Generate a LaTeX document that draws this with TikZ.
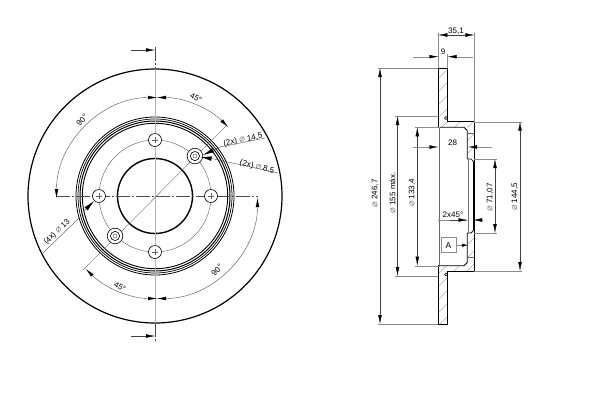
\documentclass[tikz,border=0pt]{standalone}
\usepackage{fontspec}
\setmainfont{Liberation Sans}
\newfontfamily\symfnt{DejaVu Sans}
\usetikzlibrary{arrows.meta}
\newcommand{\dia}{{\symfnt\textcolor{black!50}{\fontsize{9.5}{9}\selectfont ⌀}}}
\tikzset{
  dimline/.style={line width=0.35pt,black!75},
  extline/.style={line width=0.4pt,black!45},
  tips/.style={{Latex[length=9pt,width=3.6pt,black]}-{Latex[length=9pt,width=3.6pt,black]}},
  tipend/.style={-{Latex[length=9pt,width=3.6pt,black]}},
  wedge/.style={-{Latex[length=11pt,width=4.5pt,black]}},
  lab/.style={font=\fontsize{8}{9}\selectfont,inner sep=0pt},
  ctr/.style={line width=0.35pt,black!70,dash pattern=on 14pt off 2pt on 2pt off 2pt},
  hatchl/.style={line width=0.4pt,black!30},
  edge/.style={line width=0.8pt,black},
}
\begin{document}
\begin{tikzpicture}[x=1pt,y=1pt]
\useasboundingbox (0,0) rectangle (600,-400);
\fill[white] (0,0) rectangle (600,-400);
% ---- front view
\coordinate (C) at (155,-196);
\coordinate (D) at (157,-198);
\draw[line width=1.2pt] (C) circle (127);
\foreach \r/\w in {79/0.8,77/0.7,75/1.0,72.7/0.9}{\draw[line width=\w pt] (C) circle (\r);}
\draw[line width=1.4pt] (C) circle (37.5);
\draw[line width=0.35pt,black!70] (C) circle (56);
% centre lines
\draw[ctr] (155,-47) -- (155,-69);
\draw[ctr] (155,-323) -- (155,-341);
\draw[line width=0.9pt,black!30] (155,-69) -- (155,-323);
\draw[ctr] (56,-196) -- (258,-196);
\draw[line width=0.4pt,black!55] (227,-125) -- (83,-270);
% holes
\foreach \a in {0,90,180,270}{
  \draw[line width=0.6pt,fill=white] (C) ++(\a:56) circle (6.5);
  \draw[line width=0.25pt,black!60] (C) ++(\a:56) ++(-3,0) -- ++(6,0);
  \draw[line width=0.25pt,black!60] (C) ++(\a:56) ++(0,-3) -- ++(0,6);
}
\foreach \a in {45,225}{
  \draw[line width=0.6pt,fill=white] (C) ++(\a:56.5) circle (7.8);
  \draw[line width=0.6pt] (C) ++(\a:56.5) circle (4.6);
  \draw[line width=0.4pt,black!70] (C) ++(\a:56.5) circle (2);
}
% section arrows
\draw[dimline,tipend] (131,-50) -- (155,-50);
\draw[dimline,tipend] (131,-336) -- (155,-336);
% angular dimensions
\draw[dimline,tips] (D) ++(180:100.5) arc[start angle=180,end angle=90,radius=100.5];
\draw[dimline,tips] (D) ++(90:100.5) arc[start angle=90,end angle=45,radius=100.5];
\draw[dimline,tips] (D) ++(225:100.5) arc[start angle=225,end angle=270,radius=100.5];
\draw[dimline,tips] (D) ++(270:100.5) arc[start angle=270,end angle=360,radius=100.5];
\node[lab,rotate=45,fill=white,inner sep=0.3pt] (t90a) at (82,-120) {90°};
\node[lab,rotate=-28,fill=white,inner sep=0.3pt] (t45a) at (196,-98) {45°};
\node[lab,rotate=-28,fill=white,inner sep=0.3pt] (t45b) at (120,-287) {45°};
\node[lab,rotate=45,fill=white,inner sep=0.3pt] (t90b) at (217,-270) {90°};
% leaders
\draw[dimline] (265,-138) -- (220,-147);
\draw[dimline,wedge] (220,-147) -- (203,-155);
\draw[dimline] (278,-173) -- (214,-159);
\draw[dimline,wedge] (214,-159) -- (200.5,-157);
\draw[dimline] (43,-253) -- (79,-218);
\draw[dimline,wedge] (84,-211) -- (94,-201);
\node[lab,rotate=12] (l145) at (243,-140) {(2x) \dia\ 14,5};
\node[lab,rotate=-14] (l85) at (257,-167) {(2x) \dia\ 8,5};
\node[lab,rotate=44] (l13) at (57,-232) {(4x) \dia\ 13};
% ---- section view: hatching
\begin{scope}
\clip (438.3,-68) -- (447.5,-68) -- (447.5,-121.7) -- (474.3,-121.7) -- (474.3,-159) -- (467.3,-159) -- (467.3,-127.3) -- (438.3,-127.3) -- cycle
      (438.3,-324) -- (447.5,-324) -- (447.5,-271) -- (474.3,-271) -- (474.3,-233) -- (467.3,-233) -- (467.3,-265.7) -- (438.3,-265.7) -- cycle;
\foreach \k in {0,13,...,390}{\draw[hatchl] (380,-\k-20) -- ++(130,130);}
\end{scope}
% outline
\draw[edge] (440,-127.3) -- (438.3,-127.3) -- (438.3,-68) -- (447.5,-68) -- (447.5,-121.7) -- (474.3,-121.7) -- (474.3,-271) -- (447.5,-271) -- (447.5,-324) -- (438.3,-324) -- (438.3,-265.7) -- (440,-265.7);
\draw[edge] (440,-127.3) -- (464,-127.3) -- (467.3,-130.5) -- (467.3,-159);
\draw[edge] (440,-265.7) -- (464,-265.7) -- (467.3,-262.5) -- (467.3,-233) -- (471,-233) -- (474.3,-229.5);
\draw[line width=0.6pt] (467.3,-159) -- (471,-159) -- (474.3,-162.5);
\draw[line width=1.6pt,black!60] (439.6,-127.3) -- (439.6,-265.7);
\draw[line width=1.0pt,black!55] (468.6,-159) -- (468.6,-233);
\draw[line width=0.7pt] (473,-162) -- (473,-230);
\draw[line width=0.5pt,black!60] (468,-133) -- (474.3,-133);
\draw[line width=0.5pt,black!60] (468,-257) -- (474.3,-257);
\draw[line width=0.5pt] (446,-118) circle (1.5);
\draw[line width=0.5pt] (446,-274.5) circle (1.5);
% extension lines
\draw[extline] (378,-68) -- (438,-68);
\draw[extline] (378,-324) -- (438,-324);
\draw[extline] (395,-116) -- (438,-116);
\draw[extline] (395,-276) -- (438,-276);
\draw[extline] (415,-127.3) -- (440,-127.3);
\draw[extline] (415,-265.7) -- (440,-265.7);
\draw[extline] (474,-159) -- (497,-159);
\draw[extline] (474,-233) -- (497,-233);
\draw[extline] (474,-121.7) -- (522,-121.7);
\draw[extline] (474,-271) -- (522,-271);
\draw[extline] (438.3,-33) -- (438.3,-68);
\draw[extline] (447.5,-54) -- (447.5,-68);
\draw[extline] (474.3,-33) -- (474.3,-121.7);
% dimensions
\draw[dimline,tips] (380,-68) -- (380,-324);
\draw[dimline,tips] (397.5,-116) -- (397.5,-276);
\draw[dimline,tips] (417.3,-127.3) -- (417.3,-265.7);
\draw[dimline,tips] (495,-159) -- (495,-233);
\draw[dimline,tips] (520,-121.7) -- (520,-271);
\draw[dimline,tips] (438.3,-35) -- (474.3,-35);
\draw[extline,tipend] (413,-56.7) -- (438.3,-56.7);
\draw[extline,tipend] (473,-56.7) -- (447.5,-56.7);
\draw[extline,tipend] (413,-147) -- (438.3,-147);
\draw[extline,tipend] (492,-147) -- (468,-147);
\draw[extline] (438,-220) -- (467,-220);
\draw[dimline,tipend] (450,-220) -- (467.5,-220);
\draw[dimline,tipend] (482,-220) -- (473,-220);
\node[lab,rotate=90] (d246) at (375,-193.5) {\dia\ 246,7};
\node[lab,rotate=90] (d155) at (392.5,-193) {\dia\ 155 máx.};
\node[lab,rotate=90] (d133) at (412,-193) {\dia\ 133,4};
\node[lab,rotate=90] (d71) at (490,-197.5) {\dia\ 71,07};
\node[lab,rotate=90] (d144) at (515,-197) {\dia\ 144,5};
\node[lab] (d35) at (456,-31) {35,1};
\node[lab] (d9) at (443,-52) {9};
\node[lab] (d28) at (452.5,-142.5) {28};
\node[lab] (d2x) at (453,-215) {2x45°};
\node[draw=black!45,line width=0.5pt,minimum width=15pt,minimum height=15pt,inner sep=0pt,font=\fontsize{8.5}{9}\selectfont] (boxA) at (448.5,-245.2) {A};
\coordinate (tipA) at (467.3,-245.2);
\draw[extline] (boxA.east) -- (tipA);
\draw[{Latex[length=5pt,width=3.4pt,black]}-,dimline] (tipA) -- ++(-6,0);
\end{tikzpicture}
\end{document}
